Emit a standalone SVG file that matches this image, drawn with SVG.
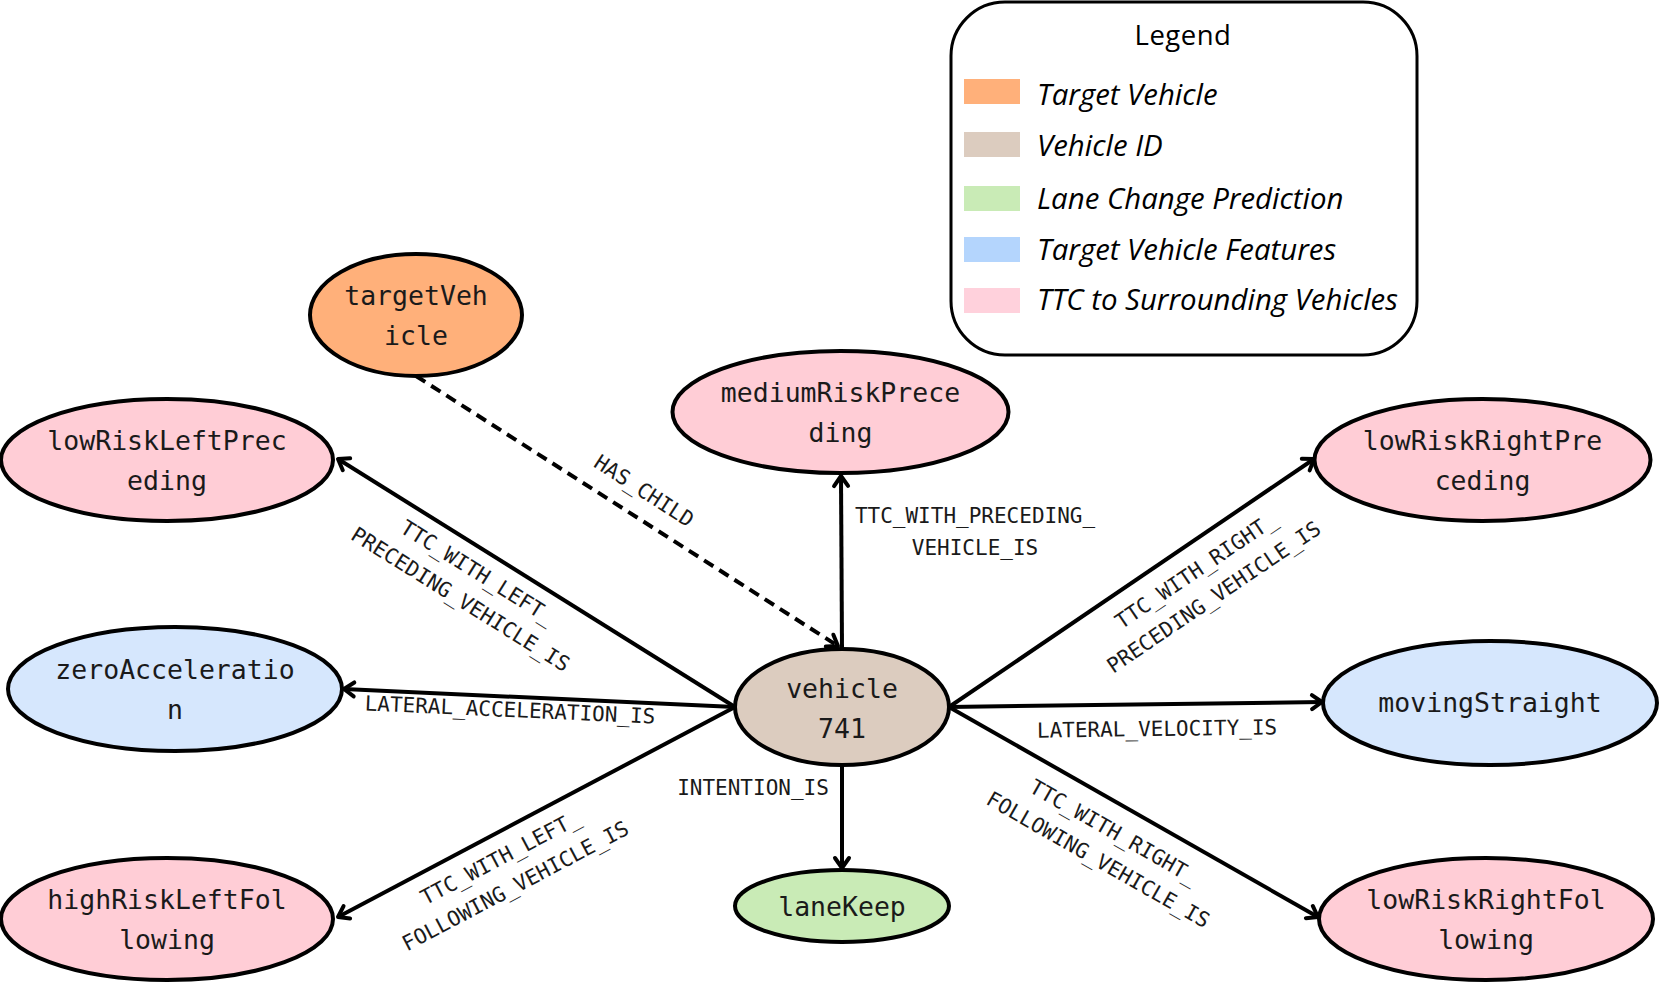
<svg xmlns="http://www.w3.org/2000/svg" width="1661" height="983" viewBox="0 0 1661 983">
<style>
.node{stroke:#000;stroke-width:4}
.nt{font-family:"DejaVu Sans Mono","Liberation Mono",monospace;font-size:26.5px;fill:#1a1a1a;text-anchor:middle}
.el{font-family:"DejaVu Sans Mono","Liberation Mono",monospace;font-size:21px;fill:#1a1a1a;text-anchor:middle}
.edge{stroke:#000;stroke-width:4;fill:none;marker-end:url(#arr)}
.dash{stroke-dasharray:11 7}
.lt{font-family:"Open Sans","Noto Sans",sans-serif;font-size:29.4px;font-style:italic;fill:#000}
.pink{fill:#FFCDD6}.blue{fill:#D6E7FD}.orange{fill:#FFB07A}.beige{fill:#DCCCBF}.green{fill:#C9EBB6}
</style>
<defs>
<marker id="arr" viewBox="-14 -10 17 20" refX="0" refY="0" markerWidth="17" markerHeight="20" orient="auto" markerUnits="userSpaceOnUse" overflow="visible">
<path d="M-10,-7 L0,0 L-10,7" fill="none" stroke="#000" stroke-width="4" stroke-linecap="round" stroke-linejoin="round"/>
</marker>
</defs>
<rect width="1661" height="983" fill="#fff"/>

<g id="legend">
<rect x="951" y="2" width="466" height="353" rx="54" ry="54" fill="#fff" stroke="#000" stroke-width="3"/>
<text x="1183" y="45" font-family="'Open Sans','Noto Sans',sans-serif" font-size="27.5" letter-spacing="0.5" fill="#000" text-anchor="middle">Legend</text>
<rect x="964" y="79" width="56" height="25" fill="#FFB07A"/>
<text class="lt" x="1037" y="105">Target Vehicle</text>
<rect x="964" y="132" width="56" height="25" fill="#DCCCBF"/>
<text class="lt" x="1037" y="156">Vehicle ID</text>
<rect x="964" y="186" width="56" height="25" fill="#C9EBB6"/>
<text class="lt" x="1037" y="209">Lane Change Prediction</text>
<rect x="964" y="237" width="56" height="25" fill="#B4D5FD"/>
<text class="lt" x="1037" y="260">Target Vehicle Features</text>
<rect x="964" y="288" width="56" height="25" fill="#FFD1DC"/>
<text class="lt" x="1037" y="310">TTC to Surrounding Vehicles</text>
</g>

<g id="connectors">
<path class="edge dash" d="M416,376 L838,646"/>
<path class="edge" d="M842,649 L841,476"/>
<path class="edge" d="M735,707 L338,459"/>
<path class="edge" d="M735,707 L344,689"/>
<path class="edge" d="M735,707 L338,917"/>
<path class="edge" d="M842,765 L842,868"/>
<path class="edge" d="M949,707 L1314,459"/>
<path class="edge" d="M949,707 L1322,702"/>
<path class="edge" d="M949,707 L1318,917"/>

<text class="el" transform="translate(644,491) rotate(33)" y="7">HAS_CHILD</text>
<text class="el" x="975" y="523">TTC_WITH_PRECEDING_</text>
<text class="el" x="975" y="555">VEHICLE_IS</text>
<g transform="translate(469,586) rotate(32)">
<text class="el" y="-9">TTC_WITH_LEFT_</text>
<text class="el" y="23">PRECEDING_VEHICLE_IS</text>
</g>
<text class="el" transform="translate(510,710) rotate(2.6)" y="7">LATERAL_ACCELERATION_IS</text>
<g transform="translate(508,872) rotate(-27.9)">
<text class="el" y="-9">TTC_WITH_LEFT_</text>
<text class="el" y="23">FOLLOWING_VEHICLE_IS</text>
</g>
<text class="el" x="753" y="795">INTENTION_IS</text>
<g transform="translate(1205,584) rotate(-34.1)">
<text class="el" y="-9">TTC_WITH_RIGHT_</text>
<text class="el" y="23">PRECEDING_VEHICLE_IS</text>
</g>
<text class="el" transform="translate(1157,729) rotate(-0.8)" y="7">LATERAL_VELOCITY_IS</text>
<g transform="translate(1106,846) rotate(29.7)">
<text class="el" y="-9">TTC_WITH_RIGHT_</text>
<text class="el" y="23">FOLLOWING_VEHICLE_IS</text>
</g>
</g>

<g id="targetVehicle">
<ellipse class="node orange" cx="416" cy="315" rx="106" ry="61"/>
<text class="nt" x="416" y="305">targetVeh</text>
<text class="nt" x="416" y="345">icle</text>
</g>
<g id="mediumRiskPreceding">
<ellipse class="node pink" cx="840.5" cy="412" rx="168" ry="61"/>
<text class="nt" x="840.5" y="402">mediumRiskPrece</text>
<text class="nt" x="840.5" y="442">ding</text>
</g>
<g id="lowRiskLeftPreceding">
<ellipse class="node pink" cx="167" cy="460" rx="166" ry="61"/>
<text class="nt" x="167" y="450">lowRiskLeftPrec</text>
<text class="nt" x="167" y="490">eding</text>
</g>
<g id="lowRiskRightPreceding">
<ellipse class="node pink" cx="1482.5" cy="460" rx="168" ry="61"/>
<text class="nt" x="1482.5" y="450">lowRiskRightPre</text>
<text class="nt" x="1482.5" y="490">ceding</text>
</g>
<g id="zeroAcceleration">
<ellipse class="node blue" cx="175" cy="689" rx="167" ry="62"/>
<text class="nt" x="175" y="679">zeroAcceleratio</text>
<text class="nt" x="175" y="719">n</text>
</g>
<g id="movingStraight">
<ellipse class="node blue" cx="1490" cy="703" rx="167" ry="62"/>
<text class="nt" x="1490" y="712">movingStraight</text>
</g>
<g id="vehicle741">
<ellipse class="node beige" cx="842" cy="707" rx="107" ry="58"/>
<text class="nt" x="842" y="698">vehicle</text>
<text class="nt" x="842" y="738">741</text>
</g>
<g id="highRiskLeftFollowing">
<ellipse class="node pink" cx="167" cy="919" rx="166" ry="61"/>
<text class="nt" x="167" y="909">highRiskLeftFol</text>
<text class="nt" x="167" y="949">lowing</text>
</g>
<g id="laneKeep">
<ellipse class="node green" cx="842" cy="906" rx="107" ry="36"/>
<text class="nt" x="842" y="916">laneKeep</text>
</g>
<g id="lowRiskRightFollowing">
<ellipse class="node pink" cx="1486" cy="919" rx="167" ry="61"/>
<text class="nt" x="1486" y="909">lowRiskRightFol</text>
<text class="nt" x="1486" y="949">lowing</text>
</g>
</svg>
